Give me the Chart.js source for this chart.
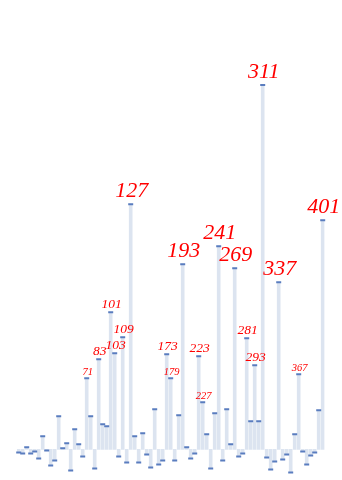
<!DOCTYPE html>
<html>
<head>
<meta charset="utf-8">
<script src="https://cdn.jsdelivr.net/npm/chart.js@4/dist/chart.umd.min.js"></script>
<style>
  html, body { margin: 0; padding: 0; background: #fff; }
  #wrap { width: 342px; height: 480px; position: relative; }
</style>
</head>
<body>
<div id="wrap"><canvas id="chart"></canvas></div>
<script>
  // primes from 5 to 401
  const primes = [
    5, 7, 11, 13, 17, 19, 23, 29, 31, 37, 41, 43, 47, 53, 59, 61, 67, 71, 73, 79,
    83, 89, 97, 101, 103, 107, 109, 113, 127, 131, 137, 139, 149, 151, 157, 163, 167, 173, 179, 181,
    191, 193, 197, 199, 211, 223, 227, 229, 233, 239, 241, 251, 257, 263, 269, 271, 277, 281, 283, 293,
    307, 311, 313, 317, 331, 337, 347, 349, 353, 359, 367, 373, 379, 383, 389, 397, 401
  ];

  const values = [
    -3, -4, 2, -4, -2, -9, 13, -1, -16, -11, 33, 1, 6, -21, 20, 5, -7, 71, 33, -19,
    90, 25, 23, 137, 96, -7, 112, -13, 245, 13, -13, 16, -5, -18, 40, -15, -11, 95, 71, -11,
    34, 185, 2, -9, -4, 93, 47, 15, -19, 36, 203, -11, 40, 5, 181, -7, -4, 111, 28, 84,
    28, 364, -8, -20, -12, 167, -10, -5, -23, 15, 75, -2, -15, -6, -3, 39, 229
  ];

  const labelMin = 44;

  function labelSize(v) {
    if (v > 160) return 22;
    if (v > 80) return 13.5;
    return 10.5;
  }

  const primeLabels = {
    id: 'primeLabels',
    afterDatasetsDraw(chart) {
      const ctx = chart.ctx;
      const meta = chart.getDatasetMeta(0);
      ctx.save();
      ctx.fillStyle = '#ff0000';
      ctx.textAlign = 'center';
      ctx.textBaseline = 'alphabetic';
      meta.data.forEach((pt, i) => {
        const v = values[i];
        if (v <= labelMin) return;
        const size = labelSize(v);
        ctx.font = 'italic ' + size + 'px "Liberation Serif", "DejaVu Serif", serif';
        ctx.fillText(String(primes[i]), pt.x + 1, pt.y - size * 0.33);
      });
      ctx.restore();
    }
  };

  new Chart(document.getElementById('chart'), {
    type: 'bar',
    data: {
      labels: primes,
      datasets: [{
        type: 'line',
        data: values,
        showLine: false,
        pointStyle: 'line',
        pointRadius: 2.5,
        pointBorderWidth: 2,
        pointBorderColor: '#5a7dbf',
        pointBackgroundColor: '#5a7dbf',
        order: 0
      }, {
        data: values,
        backgroundColor: '#dce4f0',
        barThickness: 3,
        order: 1
      }]
    },
    options: {
      responsive: true,
      maintainAspectRatio: false,
      animation: false,
      layout: { padding: { left: 16.7, right: 17.3, top: 79, bottom: 1 } },
      plugins: {
        legend: { display: false },
        tooltip: { enabled: false }
      },
      scales: {
        x: { display: false },
        y: { display: false, min: -24.6, max: 370 }
      }
    },
    plugins: [primeLabels]
  });
</script>
</body>
</html>
